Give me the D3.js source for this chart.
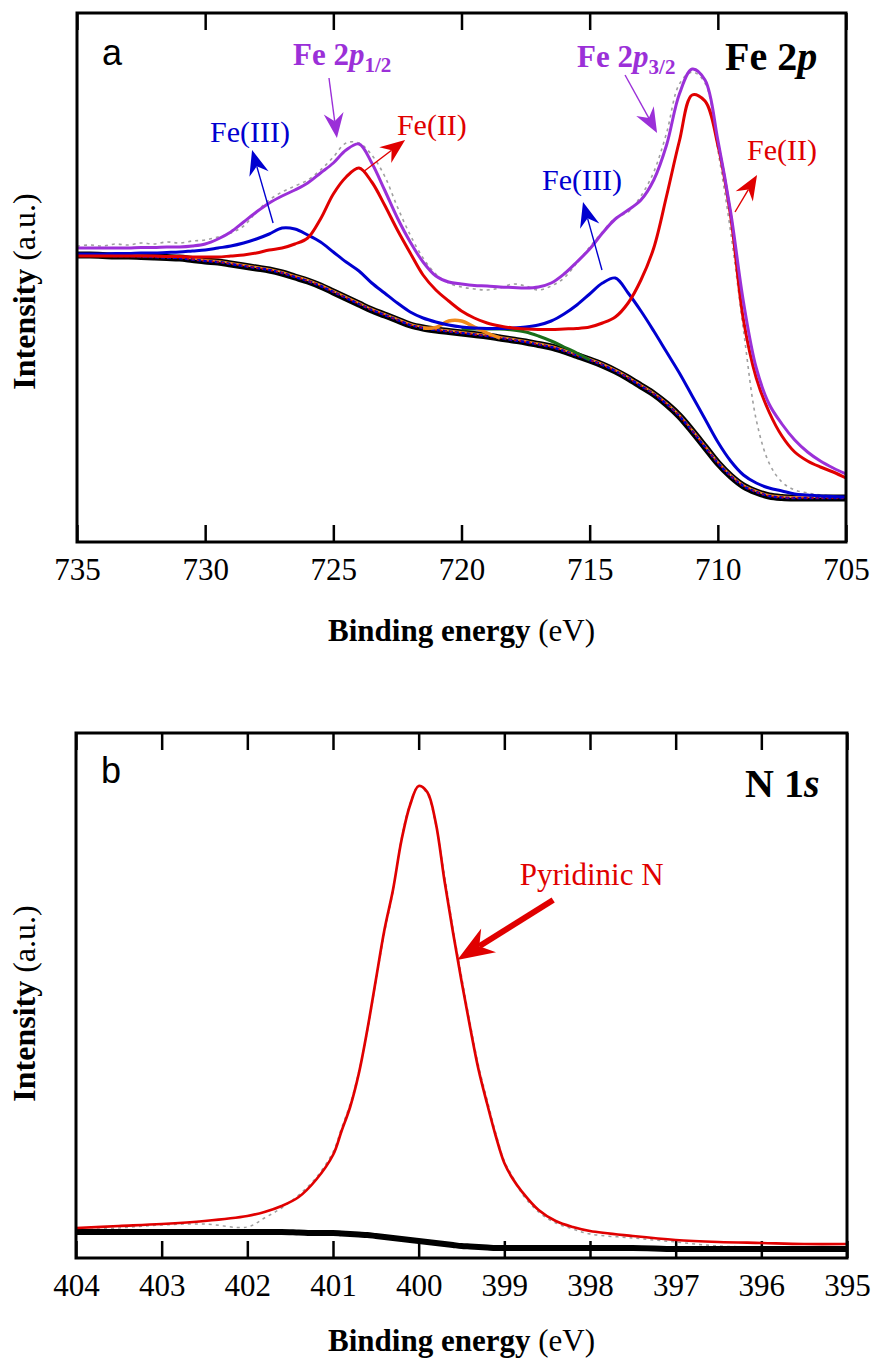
<!DOCTYPE html>
<html><head><meta charset="utf-8">
<script src="https://cdn.jsdelivr.net/npm/d3@7/dist/d3.min.js"></script>
<style>
body{margin:0;background:#fff}
</style>
</head><body>
<svg id="chart" width="872" height="1361" style="font-family:'Liberation Serif','Times New Roman',serif"></svg>
<script>
// ---------------- Panel a : Fe 2p ----------------
const feEnergy = [735,734.5,734,733.5,733,732.5,732,731.5,731,730.5,730,729.5,729,728.5,728,727.5,727,726.5,726,725.5,
  725,724.5,724,723.5,723,722.5,722,721.5,721,720.5,720,719.5,719,718.5,718,717.5,717,716.5,716,715.5,
  715,714.5,714,713.5,713,712.5,712,711.5,711,710.5,710,709.5,709,708.5,708,707.5,707,706.5,706,705.5,705];
const feRaw = [296,297,296,298,297,299,298,300,299,301,302,305,309,316,330,342,350,356,362,372,
  385,399,399,387,366,335,307,284,268,259,255,253,252,254,258,256,252,256,264,279,
  295,310,324,330,346,370,409,458,470,459,392,310,212,122,79,60,52,49,47,46,45];
const feEnvelope = [294,294,294,294,294,294.5,294.5,295,295,296,298,303,310,320,330,339,346,352,359,369,
  379,392,398,379,352,324,300,280,266,260,258,256.5,256,255,254.5,254,255,259,268,280,
  293,309,323,332,342,362,397,448,473,462,402,330,240,174,138,118,102,90,81,74,68];
const feIII = [288,288,288,288.5,288.5,289,289,289.5,290,291,292,294,296,299,303,308,314,313,307,300,
  290,280,271,259,249,239,230,224,220,217,215,214,213.5,213.5,214,215,217,221,228,237,
  248,259,264,249,231,211,190,169,146,123,100,81,67,59,54,51,48,47,46,45.5,45];
const feII = [286,286,286,286,286,286,286,285.5,285.5,285,285,285,286,287,289,292,294,298,304,323,
  348,365,374,360,337,312,289,267,252,241,231,224,219,216,214,213,212.5,212.5,213,213.5,
  215,219,225,239,262,294,346,401,447,441,397,326,222,164,130,106,90,81,75,70,64];
const feBackground = [287,287,286.5,286,286,285.5,285,284.5,284,282.5,281,280,278,276,274,272,269,265,261,256,
  250,244,238,232,227,222,217,214,212,210.5,209,207.5,206,204,202,200,197.5,195,191,186.5,
  182,177,171,164,156,148,138,126,111,95,79,66,56,50,46,44.5,44,44,44,44,44];
const satEnergyOrange = [721.5,721,720.5,720,719.5,719,718.5];
const satOrange = [214,214.5,221,221,215,209,204];
const satEnergyGreen = [720,719.5,719,718.5,718,717.5,717,716.5,716,715.5,715];
const satGreen = [213,213,213,213,212,210,206,201,195,189,182];
const feTicks = [735,730,725,720,715,710,705];

// ---------------- Panel b : N 1s ----------------
const nEnergy = [404,403.5,403,402.5,402,401.8,401.6,401.4,401.2,401,400.9,400.8,400.7,400.6,400.5,400.4,400.3,400.2,400.1,400,
  399.9,399.8,399.7,399.6,399.5,399.4,399.3,399.2,399.1,399,398.9,398.8,398.6,398.4,398.2,398,397.5,397,396.5,396,395.5,395];
const nFit = [30,32,34,37,42,46,52,61,78,103,127,151,184,228,278,328,368,418,453,472,
  466,435,378,326,277,231,188,154,122,95,79,67,48,37,31,27,22,18,16,15,14,14];
const nRaw = [28,30,33,34,31,40,50,63,80,106,130,154,186,226,276,325,366,420,455,472,
  464,433,384,330,282,235,192,158,125,97,81,65,46,35,29,24,20,16,12,11,10,9];
const nBackground = [26,26,26,26,26,26,26,25.5,25,25,24.5,24,23.5,23,22,21,20,19,18,17,
  16,15,14,13,12,11.5,11,10.5,10,10,10,10,10,10,10,10,10,9,9,9,9,9];
const nTicks = [404,403,402,401,400,399,398,397,396,395];

// ---------------- Annotations (data coordinates) ----------------
const feLabels = [
  {text:"Fe(III)", e:729.81, i:400, color:"#0000d0"},
  {text:"Fe(III)", e:716.86, i:352, color:"#0000d0"},
  {text:"Fe(II)",  e:722.52, i:407, color:"#e00000"},
  {text:"Fe(II)",  e:708.86, i:382, color:"#e00000"}
];
const feArrows = [
  {e0:725.17,i0:464,e1:724.86,i1:404,color:"#9b30d8"},
  {e0:727.35,i0:319,e1:728.17,i1:392,color:"#0000d0"},
  {e0:723.84,i0:370,e1:722.20,i1:402,color:"#e00000"},
  {e0:713.62,i0:467,e1:712.37,i1:409,color:"#9b30d8"},
  {e0:714.52,i0:272,e1:715.26,i1:340,color:"#0000d0"},
  {e0:709.33,i0:330,e1:708.47,i1:367,color:"#e00000"}
];
const feSubLabels = [
  {main:"Fe 2", ital:"p", sub:"1/2", e:726.57, i:477},
  {main:"Fe 2", ital:"p", sub:"3/2", e:715.49, i:475}
];
const nArrow = {e0:398.43,i0:358,e1:399.55,i1:298};
const nLabel = {text:"Pyridinic N", e:398.82, i:373};

const PURPLE="#9b30d8", RED="#e00000", BLUE="#0000d0", GRAY="#a0a0a0";
const SERIF="'Liberation Serif','Times New Roman',serif";
const SANS="'Liberation Sans',Arial,sans-serif";

const svg = d3.select("#chart");

function txt(g){ return g.append("text").style("font-family",SERIF); }

function arrow(g, x0,y0,x1,y1,color,lw,L,W,N){
  const dx=x1-x0, dy=y1-y0, len=Math.hypot(dx,dy), ux=dx/len, uy=dy/len, nx=-uy, ny=ux;
  const bx=x1-ux*L, by=y1-uy*L, mx=x1-ux*(L-N), my=y1-uy*(L-N);
  g.append("line").attr("x1",x0).attr("y1",y0).attr("x2",mx).attr("y2",my)
    .attr("stroke",color).attr("stroke-width",lw);
  g.append("path").attr("d",`M${x1},${y1}L${bx+nx*W},${by+ny*W}L${mx},${my}L${bx-nx*W},${by-ny*W}Z`)
    .attr("fill",color);
}

function frameAndAxes(g, x, ticks, x0,x1,y0,y1, id){
  g.append("clipPath").attr("id",id).append("rect").attr("x",x0).attr("y",y0).attr("width",x1-x0).attr("height",y1-y0);
  const bottom = g.append("g").attr("transform",`translate(0,${y1})`)
    .call(d3.axisBottom(x).tickValues(ticks).tickSizeInner(-17).tickSizeOuter(0).tickPadding(16).tickFormat(d3.format("d")));
  bottom.select(".domain").remove();
  bottom.attr("font-family",null);
  bottom.selectAll(".tick line").attr("stroke","#000").attr("stroke-width",2.5);
  bottom.selectAll(".tick text").attr("font-size",31).style("font-family",SERIF).attr("fill","#000");
  const top = g.append("g").attr("transform",`translate(0,${y0})`)
    .call(d3.axisTop(x).tickValues(ticks).tickSizeInner(-17).tickSizeOuter(0).tickFormat(""));
  top.select(".domain").remove();
  top.selectAll(".tick line").attr("stroke","#000").attr("stroke-width",2.5);
}

function drawFrame(g,x0,x1,y0,y1){
  g.append("rect").attr("x",x0).attr("y",y0).attr("width",x1-x0).attr("height",y1-y0)
    .attr("fill","none").attr("stroke","#000").attr("stroke-width",3);
}

function axisTitles(g, cx, baseY, ly, lcy){
  const t = txt(g).attr("x",cx).attr("y",baseY).attr("text-anchor","middle").attr("font-size",31);
  t.append("tspan").attr("font-weight","bold").text("Binding energy");
  t.append("tspan").text(" (eV)");
  const yl = txt(g).attr("transform",`translate(${ly},${lcy}) rotate(-90)`).attr("text-anchor","middle").attr("font-size",32);
  yl.append("tspan").attr("font-weight","bold").text("Intensity");
  yl.append("tspan").text(" (a.u.)");
}

const cr = d3.curveCatmullRom.alpha(0.5);

// ===== Panel a =====
{
  const X0=77, X1=846, Y0=13, Y1=542;
  const x = d3.scaleLinear().domain([735,705]).range([X0,X1]);
  const y = d3.scaleLinear().domain([0,529]).range([Y1,Y0]);
  const g = svg.append("g");
  frameAndAxes(g,x,feTicks,X0,X1,Y0,Y1,"clipA");
  const plot = g.append("g").attr("clip-path","url(#clipA)");
  const line = vals => d3.line().x((d,i)=>x(feEnergy[i])).y(d=>y(d)).curve(cr)(vals);
  const lineE = (es,vals) => d3.line().x((d,i)=>x(es[i])).y(d=>y(d)).curve(cr)(vals);

  plot.append("path").attr("d",line(feRaw)).attr("fill","none").attr("stroke",GRAY).attr("stroke-width",1.6).attr("stroke-dasharray","3,4");
  plot.append("path").attr("d",line(feBackground)).attr("fill","none").attr("stroke","#000").attr("stroke-width",7);
  plot.append("path").attr("d",line(feBackground.map(v=>v+1))).attr("fill","none").attr("stroke","#f08a1c").attr("stroke-width",2);
  plot.append("path").attr("d",line(feBackground)).attr("fill","none").attr("stroke",BLUE).attr("stroke-width",2.5).attr("stroke-dasharray","4,2");
  plot.append("path").attr("d",line(feBackground)).attr("fill","none").attr("stroke",RED).attr("stroke-width",1.3).attr("stroke-dasharray","2,3");
  plot.append("path").attr("d",lineE(satEnergyGreen,satGreen)).attr("fill","none").attr("stroke","#1a6e1a").attr("stroke-width",3);
  plot.append("path").attr("d",lineE(satEnergyOrange,satOrange)).attr("fill","none").attr("stroke","#f08a1c").attr("stroke-width",3.5);

  plot.append("path").attr("d",line(feIII)).attr("fill","none").attr("stroke",BLUE).attr("stroke-width",3);
  plot.append("path").attr("d",line(feII)).attr("fill","none").attr("stroke",RED).attr("stroke-width",3);
  plot.append("path").attr("d",line(feEnvelope)).attr("fill","none").attr("stroke",PURPLE).attr("stroke-width",3);

  drawFrame(g,X0,X1,Y0,Y1);

  feArrows.forEach(a=>arrow(g,x(a.e0),y(a.i0),x(a.e1),y(a.i1),a.color,1.4,25,10,8));
  feLabels.forEach(l=>txt(g).attr("x",x(l.e)).attr("y",y(l.i)).attr("font-size",30).attr("fill",l.color).text(l.text));
  feSubLabels.forEach(l=>{
    const t=txt(g).attr("x",x(l.e)).attr("y",y(l.i)).attr("font-size",31).attr("font-weight","bold").attr("fill",PURPLE);
    t.append("tspan").text(l.main);
    t.append("tspan").attr("font-style","italic").text(l.ital);
    t.append("tspan").attr("font-size",21).attr("dy",7).text(l.sub);
  });
  g.append("text").style("font-family",SANS).attr("x",X0+25).attr("y",Y0+52).attr("font-size",36).text("a");
  const tt = txt(g).attr("x",X1-121).attr("y",Y0+57).attr("font-size",40).attr("font-weight","bold");
  tt.append("tspan").text("Fe 2"); tt.append("tspan").attr("font-style","italic").text("p");
  axisTitles(g,(X0+X1)/2,641,35,291.5);
}

// ===== Panel b =====
{
  const X0=76, X1=847, Y0=733, Y1=1258;
  const x = d3.scaleLinear().domain([404,395]).range([X0,X1]);
  const y = d3.scaleLinear().domain([0,525]).range([Y1,Y0]);
  const g = svg.append("g");
  frameAndAxes(g,x,nTicks,X0,X1,Y0,Y1,"clipB");
  const plot = g.append("g").attr("clip-path","url(#clipB)");
  const smooth = vals => d3.line().x((d,i)=>x(nEnergy[i])).y(d=>y(d)).curve(cr)(vals);
  plot.append("path").attr("d",smooth(nRaw)).attr("fill","none").attr("stroke",GRAY).attr("stroke-width",1.5).attr("stroke-dasharray","3,4");
  plot.append("path").attr("d",d3.line().x((d,i)=>x(nEnergy[i])).y(d=>y(d)).curve(d3.curveMonotoneX)(nBackground)).attr("fill","none").attr("stroke","#000").attr("stroke-width",6);
  plot.append("path").attr("d",smooth(nFit)).attr("fill","none").attr("stroke",RED).attr("stroke-width",2.7).attr("stroke-linejoin","round");
  drawFrame(g,X0,X1,Y0,Y1);
  arrow(g,x(nArrow.e0),y(nArrow.i0),x(nArrow.e1),y(nArrow.i1),RED,6,37,14,11);
  txt(g).attr("x",x(nLabel.e)).attr("y",y(nLabel.i)).attr("font-size",31).attr("fill",RED).text(nLabel.text);
  g.append("text").style("font-family",SANS).attr("x",X0+25).attr("y",Y0+50).attr("font-size",36).text("b");
  const tt = txt(g).attr("x",X1-102).attr("y",Y0+64).attr("font-size",40).attr("font-weight","bold");
  tt.append("tspan").text("N 1"); tt.append("tspan").attr("font-style","italic").text("s");
  axisTitles(g,(X0+X1)/2,1351,35,1003.5);
}
</script>
</body></html>
